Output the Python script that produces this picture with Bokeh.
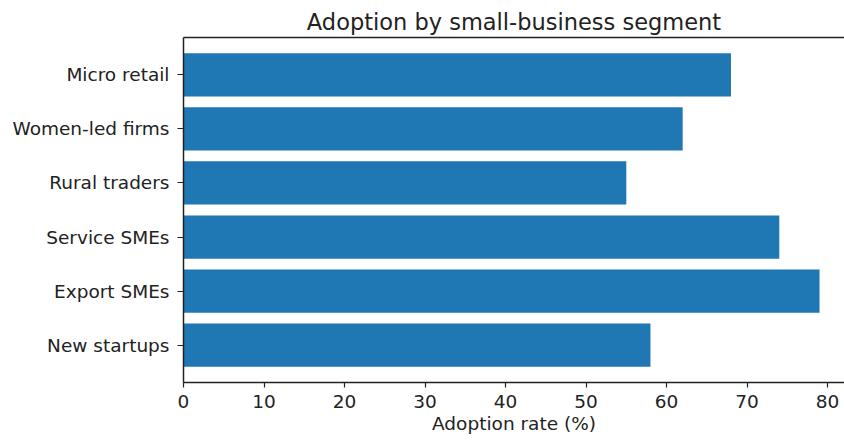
from bokeh.plotting import figure
from bokeh.models import FactorRange, Range1d, LinearAxis, FixedTicker
from bokeh.embed import file_html
from bokeh.resources import INLINE

segments = ["Micro retail", "Women-led firms", "Rural traders", "Service SMEs", "Export SMEs", "New startups"]
adoption = [68, 62, 55, 74, 79, 58]
x_ticks = [0, 10, 20, 30, 40, 50, 60, 70, 80]

FONT = "DejaVu Sans"
TXT = "#222222"
LINE = "#222222"

factors = list(reversed(segments))
p = figure(width=844, height=444, output_backend="svg", toolbar_location=None,
           y_range=FactorRange(factors=factors, range_padding=0.38 / 6, range_padding_units="percent"),
           x_range=Range1d(0, 82.1),
           min_border_left=183, min_border_right=0, min_border_top=37, min_border_bottom=62)

p.hbar(y=segments, right=adoption, left=0, height=0.8, color="#1f77b4", line_color=None)

p.outline_line_color = None
p.xgrid.visible = False
p.ygrid.visible = False
p.background_fill_color = "white"
p.border_fill_color = "white"

# title
p.title.text = "Adoption by small-business segment"
p.title.align = "center"
p.title.vertical_align = "middle"
p.title.text_font = FONT
p.title.text_font_size = "22.5px"
p.title.text_font_style = "normal"
p.title.text_color = TXT
p.title.standoff = 4

# x axis
xa = p.xaxis[0]
xa.ticker = FixedTicker(ticks=x_ticks)
xa.axis_label = "Adoption rate (%)"
xa.axis_label_text_font = FONT
xa.axis_label_text_font_size = "18.5px"
xa.axis_label_text_font_style = "normal"
xa.axis_label_text_color = TXT
xa.axis_label_standoff = 2
xa.major_label_text_font = FONT
xa.major_label_text_font_size = "18.5px"
xa.major_label_text_color = TXT
xa.major_label_standoff = 7
xa.major_tick_out = 5
xa.major_tick_in = 0
xa.minor_tick_out = 0
xa.minor_tick_in = 0
xa.axis_line_color = LINE
xa.axis_line_width = 1.5
xa.major_tick_line_color = LINE
xa.major_tick_line_width = 1.2

# y axis
ya = p.yaxis[0]
ya.major_label_text_font = FONT
ya.major_label_text_font_size = "18.5px"
ya.major_label_text_color = TXT
ya.major_label_standoff = 8
ya.major_tick_out = 6
ya.major_tick_in = 0
ya.axis_line_color = LINE
ya.axis_line_width = 1.5
ya.major_tick_line_color = LINE
ya.major_tick_line_width = 1.2

# top spine (no right spine visible in the reference)
top = LinearAxis(ticker=FixedTicker(ticks=[]), major_label_text_font_size="0px",
                 major_tick_out=0, major_tick_in=0, minor_tick_out=0, minor_tick_in=0,
                 major_label_standoff=0, axis_line_color=LINE, axis_line_width=1.5)
p.add_layout(top, "above")

open("out.html", "w").write(file_html(p, INLINE))
